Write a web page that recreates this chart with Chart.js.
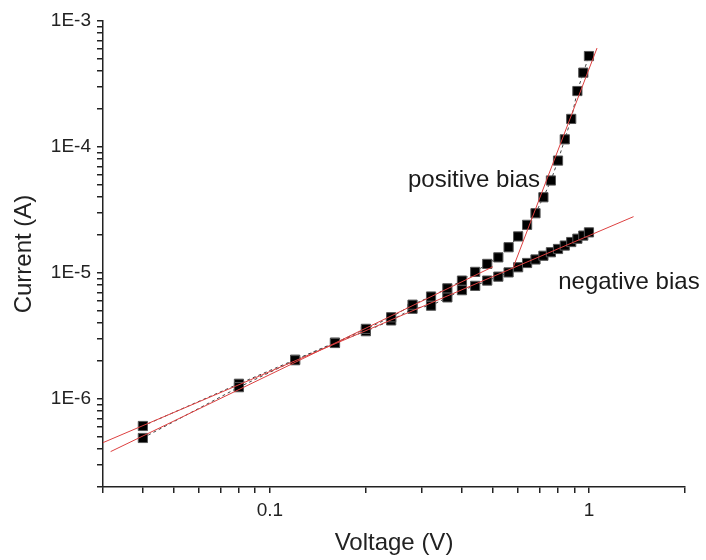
<!DOCTYPE html>
<html>
<head>
<meta charset="utf-8">
<script src="https://cdn.jsdelivr.net/npm/chart.js@4/dist/chart.umd.min.js"></script>
<style>
  html, body { margin: 0; padding: 0; background: #fff; }
  #wrap { width: 706px; height: 560px; }
</style>
</head>
<body>
<div id="wrap"><canvas id="ivChart" width="706" height="560"></canvas></div>
<script>
const voltage = [0.04, 0.08, 0.12, 0.16, 0.20, 0.24, 0.28, 0.32, 0.36, 0.40, 0.44, 0.48, 0.52,
                 0.56, 0.60, 0.64, 0.68, 0.72, 0.76, 0.80, 0.84, 0.88, 0.92, 0.96, 1.00];
const positiveCurrent = [4.9e-7, 1.24e-6, 2.03e-6, 2.78e-6, 3.6e-6, 4.45e-6, 5.6e-6, 6.5e-6, 7.55e-6,
                         8.7e-6, 1.02e-5, 1.18e-5, 1.33e-5, 1.60e-5, 1.95e-5, 2.41e-5, 2.98e-5, 3.99e-5,
                         5.42e-5, 7.8e-5, 1.15e-4, 1.67e-4, 2.78e-4, 3.89e-4, 5.27e-4];
const negativeCurrent = [6.1e-7, 1.32e-6, 2.05e-6, 2.80e-6, 3.45e-6, 4.2e-6, 5.2e-6, 5.5e-6, 6.4e-6,
                         7.3e-6, 7.9e-6, 8.7e-6, 9.35e-6, 1.01e-5, 1.11e-5, 1.20e-5, 1.28e-5, 1.37e-5,
                         1.46e-5, 1.55e-5, 1.65e-5, 1.76e-5, 1.87e-5, 1.98e-5, 2.10e-5];

// fitted straight lines (end points)
const negFitV = [0.03, 1.38];
const negFitI = [4.5e-7, 2.8e-5];
const posLowFitV = [0.0317, 0.50];
const posLowFitI = [3.82e-7, 1.12e-5];
const posHighFitV = [0.58, 1.06];
const posHighFitI = [1.12e-5, 6.1e-4];

// axis ticks
const xTicks = [0.03, 0.04, 0.05, 0.06, 0.07, 0.08, 0.09, 0.1, 0.2, 0.3, 0.4, 0.5, 0.6, 0.7, 0.8, 0.9, 1, 2];
const xTickLabels = { 0.1: '0.1', 1: '1' };
const yTicks = [2e-7, 3e-7, 4e-7, 5e-7, 6e-7, 7e-7, 8e-7, 9e-7,
                1e-6, 2e-6, 3e-6, 4e-6, 5e-6, 6e-6, 7e-6, 8e-6, 9e-6,
                1e-5, 2e-5, 3e-5, 4e-5, 5e-5, 6e-5, 7e-5, 8e-5, 9e-5,
                1e-4, 2e-4, 3e-4, 4e-4, 5e-4, 6e-4, 7e-4, 8e-4, 9e-4, 1e-3];
const yTickLabels = { 1e-6: '1E-6', 1e-5: '1E-5', 1e-4: '1E-4', 1e-3: '1E-3' };

const notes = [
    { text: 'positive bias', v: 0.271, i: 5.42e-5 },
    { text: 'negative bias', v: 0.801, i: 8.37e-6 }
];

const FONT = '"Liberation Sans", Arial, sans-serif';

function pts(xs, ys) {
    return xs.map((x, k) => ({ x: x, y: ys[k] }));
}

function measured(ys) {
    return {
        data: pts(voltage, ys),
        showLine: true,
        borderColor: '#444',
        borderWidth: 1,
        borderDash: [3, 3],
        pointStyle: 'rect',
        pointRadius: 6.5,
        pointBackgroundColor: '#000',
        pointBorderColor: '#555',
        pointBorderWidth: 1,
        order: 2
    };
}

function fit(xs, ys) {
    return {
        data: pts(xs, ys),
        showLine: true,
        borderColor: '#dd4040',
        borderWidth: 1,
        pointRadius: 0,
        order: 1
    };
}

const notesPlugin = {
    id: 'notes',
    afterDatasetsDraw(chart) {
        const ctx = chart.ctx;
        const xs = chart.scales.x, ys = chart.scales.y;
        ctx.save();
        ctx.font = '24px ' + FONT;
        ctx.fillStyle = '#1a1a1a';
        ctx.textAlign = 'left';
        ctx.textBaseline = 'middle';
        notes.forEach(n => {
            ctx.fillText(n.text, xs.getPixelForValue(n.v), ys.getPixelForValue(n.i));
        });
        ctx.restore();
    }
};

new Chart(document.getElementById('ivChart'), {
    type: 'scatter',
    data: {
        datasets: [
            fit(negFitV, negFitI),
            fit(posLowFitV, posLowFitI),
            fit(posHighFitV, posHighFitI),
            measured(positiveCurrent),
            measured(negativeCurrent)
        ]
    },
    options: {
        responsive: false,
        animation: false,
        layout: { padding: { left: 0, right: 21, top: 21, bottom: 0 } },
        plugins: { legend: { display: false }, tooltip: { enabled: false } },
        scales: {
            x: {
                type: 'logarithmic',
                min: 0.03,
                max: 2,
                afterBuildTicks: s => { s.ticks = xTicks.map(v => ({ value: v })); },
                afterFit: s => { s.height = 73; },
                grid: { display: true, drawOnChartArea: false, drawTicks: true, tickLength: 6, color: '#222', lineWidth: 1.5 },
                border: { display: true, color: '#222', width: 1.5 },
                ticks: {
                    autoSkip: false,
                    maxRotation: 0,
                    padding: 6,
                    color: '#222',
                    font: { family: FONT, size: 19 },
                    callback: v => xTickLabels[v] || ''
                },
                title: { display: true, text: 'Voltage (V)', color: '#222', font: { family: FONT, size: 24 }, padding: { top: 0, bottom: 2 } }
            },
            y: {
                type: 'logarithmic',
                min: 2e-7,
                max: 1e-3,
                afterBuildTicks: s => { s.ticks = yTicks.map(v => ({ value: v })); },
                afterFit: s => { s.width = 103; },
                grid: { display: true, drawOnChartArea: false, drawTicks: true, tickLength: 6, color: '#222', lineWidth: 1.5 },
                border: { display: true, color: '#222', width: 1.5 },
                ticks: {
                    autoSkip: false,
                    padding: 6,
                    color: '#222',
                    font: { family: FONT, size: 19 },
                    callback: v => yTickLabels[v] || ''
                },
                title: { display: true, text: 'Current (A)', color: '#222', font: { family: FONT, size: 24 }, padding: { top: 10, bottom: 0 } }
            }
        }
    },
    plugins: [notesPlugin]
});
</script>
</body>
</html>
